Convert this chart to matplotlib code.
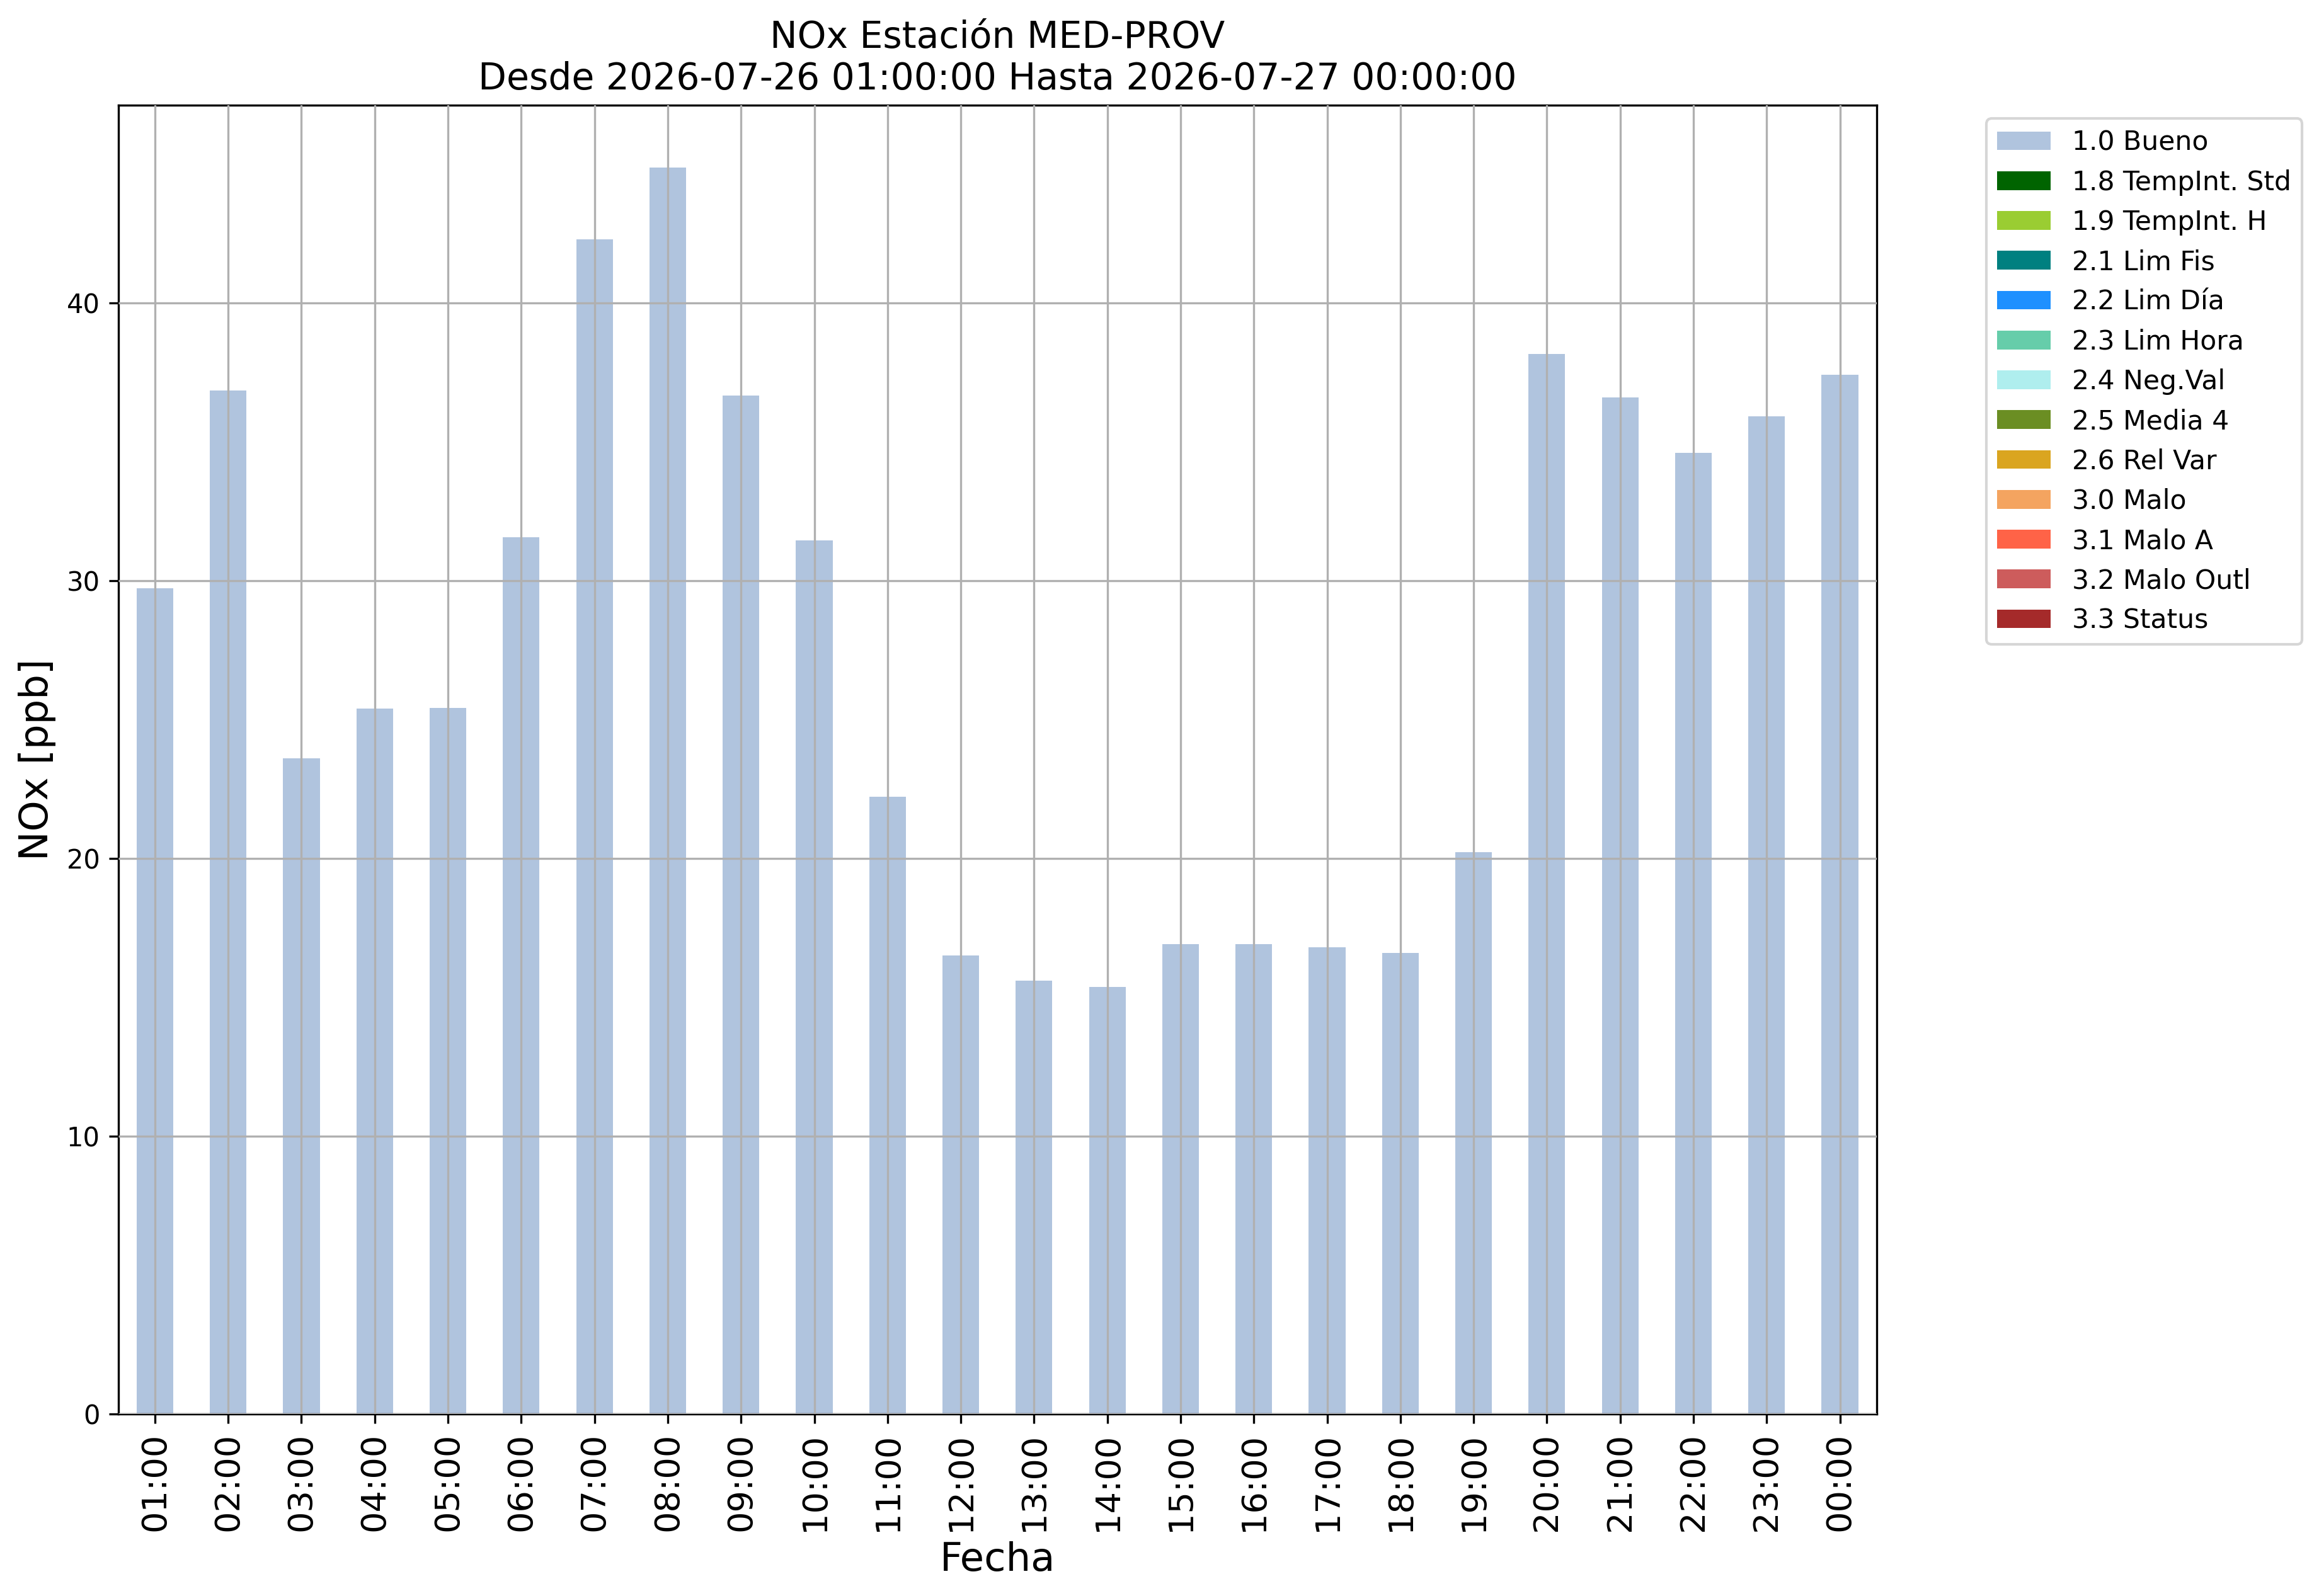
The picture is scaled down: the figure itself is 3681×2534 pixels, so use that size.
import matplotlib
matplotlib.use("Agg")
import matplotlib.pyplot as plt
import numpy as np

horas = ["01:00", "02:00", "03:00", "04:00", "05:00", "06:00", "07:00", "08:00",
         "09:00", "10:00", "11:00", "12:00", "13:00", "14:00", "15:00", "16:00",
         "17:00", "18:00", "19:00", "20:00", "21:00", "22:00", "23:00", "00:00"]

bueno = [29.74, 36.86, 23.6, 25.4, 25.43, 31.58, 42.29, 44.88,
         36.68, 31.45, 22.22, 16.51, 15.61, 15.37, 16.91, 16.93,
         16.8, 16.6, 20.22, 38.17, 36.61, 34.62, 35.93, 37.43]

# las demas banderas no tienen datos en este periodo
banderas = ["1.0 Bueno", "1.8 TempInt. Std", "1.9 TempInt. H", "2.1 Lim Fis",
            "2.2 Lim Día", "2.3 Lim Hora", "2.4 Neg.Val", "2.5 Media 4",
            "2.6 Rel Var", "3.0 Malo", "3.1 Malo A", "3.2 Malo Outl", "3.3 Status"]
colores = ["lightsteelblue", "darkgreen", "yellowgreen", "teal", "dodgerblue",
           "mediumaquamarine", "paleturquoise", "olivedrab", "goldenrod",
           "sandybrown", "tomato", "indianred", "brown"]

valores = [bueno] + [[0.0] * len(horas) for _ in banderas[1:]]

fig = plt.figure(figsize=(12.273, 8.447), dpi=300)
ax = fig.add_axes([0.051, 0.114, 0.758, 0.82])

x = np.arange(len(horas))
base = np.zeros(len(horas))
for nombre, col, v in zip(banderas, colores, valores):
    v = np.array(v)
    ax.bar(x, v, width=0.5, bottom=base, color=col, label=nombre, zorder=1)
    base = base + v

ax.set_xlim(-0.5, len(horas) - 0.5)
ax.set_ylim(0, max(bueno) * 1.05)
ax.set_xticks(x)
ax.set_xticklabels(horas, rotation=90, fontsize=13)
ax.tick_params(axis="y", labelsize=10)
ax.grid(True, color="#b0b0b0", linewidth=0.8, zorder=2)
ax.set_axisbelow(False)

ax.set_xlabel("Fecha", fontsize=15)
ax.set_ylabel("NOx [ppb]", fontsize=15)
ax.set_title("NOx Estación MED-PROV\nDesde 2026-07-26 01:00:00 Hasta 2026-07-27 00:00:00",
             fontsize=14)

ax.legend(bbox_to_anchor=(1.055, 1), loc="upper left", fontsize=10.2)

fig.savefig("out.png", dpi=300)
